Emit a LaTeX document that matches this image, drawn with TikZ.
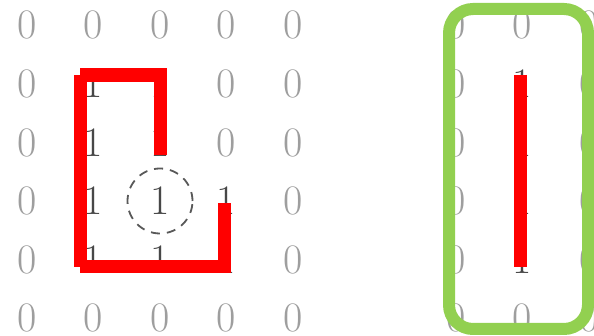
\documentclass[tikz,border=0pt]{standalone}
\usepackage{fontspec}
\begin{document}
\begin{tikzpicture}[x=1pt,y=-1pt,
  zero/.style={text=black!38,font=\fontsize{42}{42}\selectfont,inner sep=0pt},
  one/.style={text=black!72,font=\fontsize{42}{42}\selectfont,inner sep=0pt},
  redline/.style={draw=red,line width=13.5pt},
  ring/.style={draw=black!65,dash pattern=on 9pt off 7pt,line width=1.8pt},
  greenbox/.style={draw=grn,line width=12pt,rounded corners=24pt}]
\definecolor{grn}{RGB}{146,208,80}
\useasboundingbox (0,0) rectangle (594,336);
% left matrix
\def\colx{{27,93.5,160,226.5,293}}
\def\rowy{{25,84,143,201,260,318}}
\foreach \r/\c/\v in {0/0/0,0/1/0,0/2/0,0/3/0,0/4/0,
  1/0/0,1/1/1,1/2/1,1/3/0,1/4/0,
  2/0/0,2/1/1,2/2/1,2/3/0,2/4/0,
  3/0/0,3/1/1,3/2/1,3/3/1,3/4/0,
  4/0/0,4/1/1,4/2/1,4/3/1,4/4/0,
  5/0/0,5/1/0,5/2/0,5/3/0,5/4/0}{
  \pgfmathsetmacro\xx{\colx[\c]}
  \pgfmathsetmacro\yy{\rowy[\r]}
  \ifnum\v=0
    \node[zero] (L-\r-\c) at (\xx,\yy) {0};
  \else
    \node[one] (L-\r-\c) at (\xx,\yy) {1};
  \fi
}
% right matrix
\foreach \r/\c/\v in {0/0/0,0/1/0,0/2/0,
  1/0/0,1/1/1,1/2/0,
  2/0/0,2/1/1,2/2/0,
  3/0/0,3/1/1,3/2/0,
  4/0/0,4/1/1,4/2/0,
  5/0/0,5/1/0,5/2/0}{
  \pgfmathsetmacro\xx{456+66.5*\c}
  \pgfmathsetmacro\yy{\rowy[\r]}
  \ifnum\v=0
    \node[zero] (R-\r-\c) at (\xx,\yy) {0};
  \else
    \node[one] (R-\r-\c) at (\xx,\yy) {1};
  \fi
}
% dashed ring around the centre 1
\node[ring,circle,minimum size=65pt,inner sep=0pt] (ringnode) at (L-3-2) {};
% red strokes, left
\draw[redline] (80.7,75) -- (80.7,266.7);
\draw[redline] (80,75) -- (166.7,75);
\draw[redline] (160.3,68.3) -- (160.3,155);
\draw[redline] (80,266.7) -- (224.5,266.7);
\draw[redline] (224.5,203.3) -- (224.5,273.3);
% red stroke, right
\draw[redline] (520.3,75) -- (520.3,266.7);
% green box
\draw[greenbox] (449,9) rectangle (588,329);
\end{tikzpicture}
\end{document}
